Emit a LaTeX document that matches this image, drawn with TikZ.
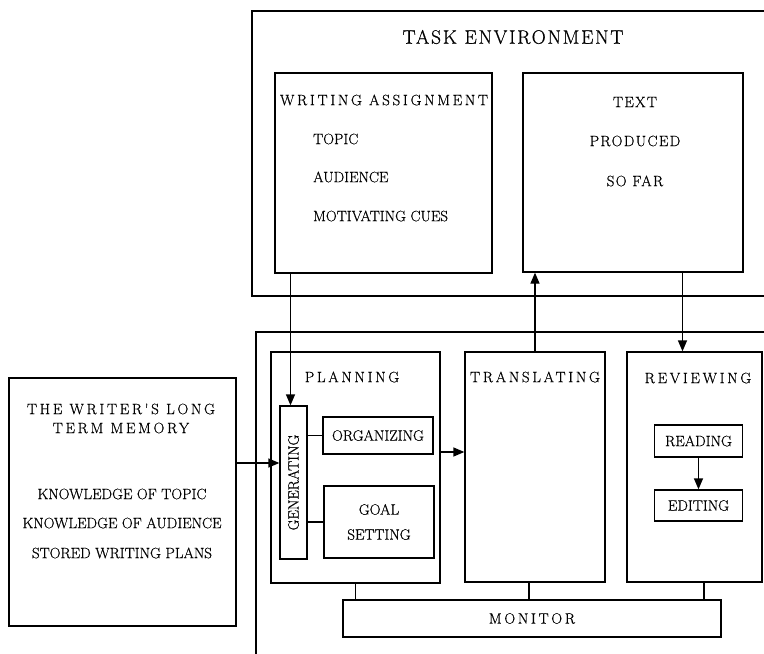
\documentclass[tikz,border=0pt]{standalone}
\usepackage{fontspec}
\setmainfont{Latin Modern Roman}[FakeBold=0.6]
\newfontfamily\spacedfont{Latin Modern Roman}[LetterSpace=18, FakeBold=0.6]
\newfontfamily\softspaced{Latin Modern Roman}[LetterSpace=9, FakeBold=0.6]
\usetikzlibrary{arrows.meta}

\tikzset{
  box/.style={draw, line width=1.3pt, rectangle, inner sep=0pt},
  frame/.style={line width=2.6pt},
  lbl/.style={font=\fontsize{15}{18}\selectfont, inner sep=0pt},
  head/.style={font=\spacedfont\fontsize{15}{19}\selectfont, inner sep=0pt},
  soft/.style={font=\softspaced\fontsize{15}{18}\selectfont, inner sep=0pt},
  link/.style={line width=1.3pt},
  arr/.style={line width=1.3pt, -{Triangle[length=11pt,width=9pt]}}
}

\begin{document}
\begin{tikzpicture}[x=1pt, y=-1pt]
  \useasboundingbox (0,0) rectangle (764,654);

  % task environment
  \draw [frame] (764,11) -- (252,11) -- (252,296) -- (764,296);
  \node [soft, font=\softspaced\fontsize{19.5}{24}\selectfont] (tasktitle) at (513,37) {TASK ENVIRONMENT};

  \node [box, minimum width=217pt, minimum height=200pt] (wa) at (383.5,173) {};
  \node [head] (watitle) at (384,100) {WRITING ASSIGNMENT};
  \node [lbl, anchor=west] (topic) at (313,139) {TOPIC};
  \node [lbl, anchor=west] (audience) at (313,177) {AUDIENCE};
  \node [lbl, anchor=west] (cues) at (313,216) {MOTIVATING CUES};

  \node [box, minimum width=220pt, minimum height=199pt] (text) at (633,172.5) {};
  \node [soft] (textA) at (635,102) {TEXT};
  \node [soft] (textB) at (635,141) {PRODUCED};
  \node [soft] (textC) at (635,181) {SO FAR};

  % long term memory
  \node [box, minimum width=227pt, minimum height=248pt] (ltm) at (122.5,502) {};
  \node [head, align=center] (ltmtitle) at (121,418.5) {THE WRITER'S LONG\\TERM MEMORY};
  \node [lbl] (ktopic) at (122,494) {KNOWLEDGE OF TOPIC};
  \node [lbl] (kaud) at (122,523) {KNOWLEDGE OF AUDIENCE};
  \node [lbl] (plans) at (122,553) {STORED WRITING PLANS};

  % writing processes
  \draw [frame] (256,654) -- (256,332) -- (764,332);

  \node [box, minimum width=169pt, minimum height=231pt] (plan) at (355.5,467.5) {};
  \node [head] (plantitle) at (352,377) {PLANNING};
  \node [box, lbl, minimum width=153pt, minimum height=27pt,
    rotate=90] (gen) at (293.5,482.5) {GENERATING};
  \node [box, lbl, minimum width=110pt, minimum height=37pt] (org) at (378,435.5) {ORGANIZING};
  \node [box, lbl, minimum width=110pt, minimum height=72pt,
    align=center, font=\fontsize{15}{25}\selectfont] (goal) at (379,522) {GOAL\\SETTING};

  \node [box, minimum width=140pt, minimum height=230pt] (trans) at (535,467) {};
  \node [head] (transtitle) at (535,377) {TRANSLATING};

  \node [box, minimum width=135pt, minimum height=230pt] (rev) at (694.5,467) {};
  \node [head] (revtitle) at (698,378) {REVIEWING};
  \node [box, lbl, minimum width=88pt, minimum height=32pt] (read) at (698.5,441) {READING};
  \node [box, lbl, minimum width=88pt, minimum height=31pt] (edit) at (698.5,505.5) {EDITING};

  \node [box, head, minimum width=378pt, minimum height=37pt] (mon) at (532,618.5) {MONITOR};

  % connections
  \coordinate (gin) at ([xshift=-3pt]gen.east);
  \draw [arr] (gin |- wa.south) -- (gin);
  \coordinate (lin) at ([yshift=19.5pt]gen.north);
  \draw [arr] (ltm.east |- lin) -- (lin);
  \draw [link] (gen.south |- org.west) -- (org.west);
  \draw [link] (gen.south |- goal.west) -- (goal.west);
  \coordinate (pout) at ([yshift=15.5pt]plan.east);
  \draw [arr] (pout) -- (pout -| trans.west);
  \draw [arr] (trans.north) -- (trans.north |- text.south);
  \coordinate (rin) at ([xshift=-12pt]rev.north);
  \draw [arr] (rin |- text.south) -- (rin);
  \draw [arr] (read.south) -- (edit.north);

  \draw [link] (plan.south) -- (plan.south |- mon.north);
  \coordinate (tm) at ([xshift=-6pt]trans.south);
  \draw [link] (tm) -- (tm |- mon.north);
  \coordinate (rm) at ([xshift=9.5pt]rev.south);
  \draw [link] (rm) -- (rm |- mon.north);
\end{tikzpicture}
\end{document}
